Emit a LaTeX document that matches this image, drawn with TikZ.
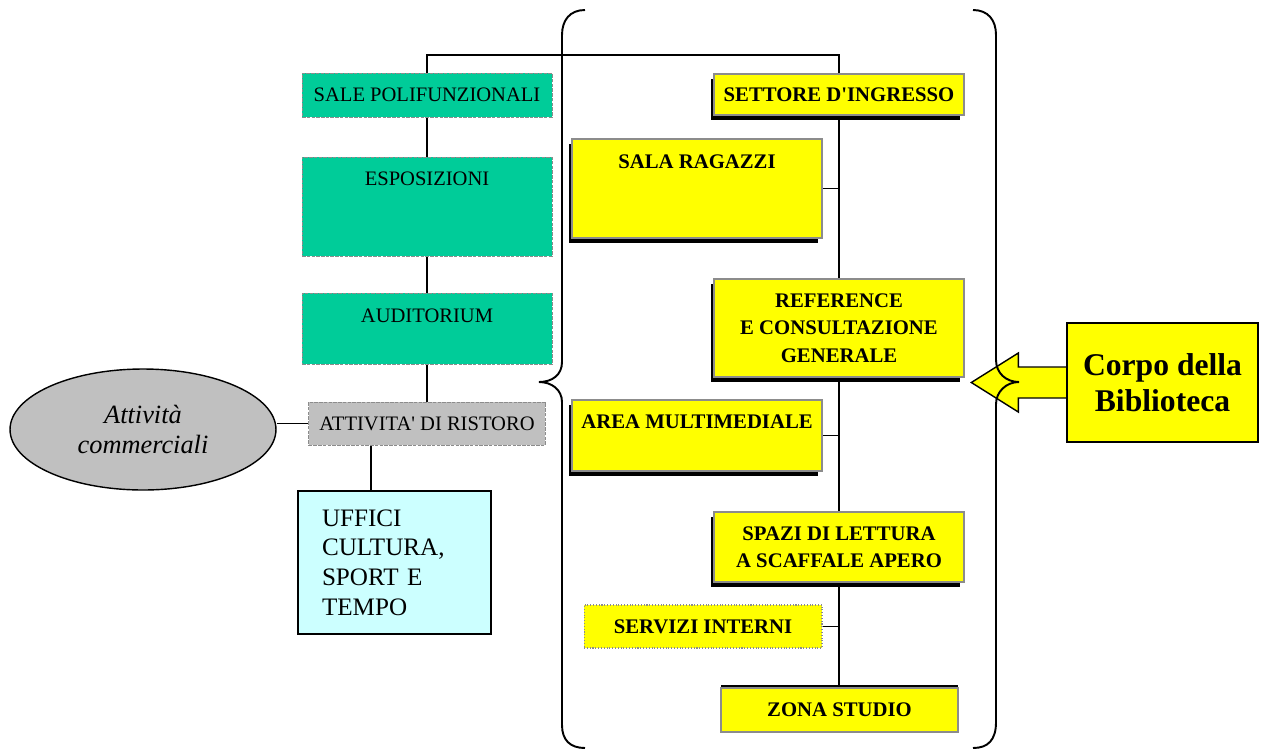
\documentclass[tikz,border=0pt]{standalone}
\usepackage{fontspec}
\setmainfont{Liberation Serif}
\usetikzlibrary{calc,shapes.geometric,shadows,backgrounds}
\definecolor{annexfill}{HTML}{00CC99}
\definecolor{sectorfill}{HTML}{FFFF00}
\definecolor{barfill}{HTML}{C0C0C0}
\definecolor{officefill}{HTML}{CCFFFF}
\definecolor{edgegrey}{HTML}{8C8C8C}

\begin{document}
\begin{tikzpicture}[x=0.02cm, y=-0.02cm,
  annex/.style={draw=edgegrey, dash pattern=on 2pt off 0.7pt, fill=annexfill, inner sep=0pt, minimum width=5cm, align=center, font=\fontsize{11.7}{14}\selectfont},
  sectorbase/.style={draw=edgegrey, line width=0.8pt, fill=sectorfill, inner sep=0pt, minimum width=5cm, align=center, font=\bfseries\fontsize{11.8}{15.6}\selectfont},
  sector/.style={sectorbase, drop shadow={shadow xshift=-0.07cm, shadow yshift=-0.1cm, fill=black, opacity=1}},
  link/.style={line width=0.8pt},
  brace/.style={line width=1.1pt}
]
  \useasboundingbox (0,0) rectangle (1266,751);

  % left wing
  \node[annex, minimum height=0.88cm] (sale) at (427,95) {SALE POLIFUNZIONALI};
  \node[annex, text height=0.56cm, text depth=1.42cm] (espo) at (427,206.5) {ESPOSIZIONI};
  \node[annex, text height=0.58cm, text depth=0.84cm] (audi) at (427,328.5) {AUDITORIUM};
  \node[annex, fill=barfill, minimum width=4.74cm, minimum height=0.86cm] (ristoro) at (427,423.5) {ATTIVITA\textquotesingle\ DI RISTORO};
  \node[ellipse, draw, line width=0.8pt, fill=barfill, minimum width=5.32cm, minimum height=2.42cm, inner sep=0pt, align=center, font=\itshape\fontsize{15}{17}\selectfont] (comm) at (143,429.5) {Attività\\commerciali};
  \node[draw, line width=0.8pt, fill=officefill, minimum width=3.86cm, minimum height=2.86cm, text width=2.9cm, inner xsep=0.48cm, align=left, font=\fontsize{14.3}{16.9}\selectfont] (uffici) at (394.5,562.5) {UFFICI\\CULTURA,\\\mbox{SPORT E}\\TEMPO};

  % library body
  \node[sector, minimum height=0.82cm] (settore) at (839,94.5) {SETTORE D\textquotesingle INGRESSO};
  \node[sector, text height=0.58cm, text depth=1.4cm] (ragazzi) at (697,188.5) {SALA RAGAZZI};
  \node[sector, minimum height=1.96cm] (reference) at (839,328) {REFERENCE\\E CONSULTAZIONE\\GENERALE};
  \node[sector, text height=0.56cm, text depth=0.86cm] (multimedia) at (697,435.5) {AREA MULTIMEDIALE};
  \node[sector, minimum height=1.4cm] (spazi) at (839,547) {SPAZI DI LETTURA\\A SCAFFALE APERO};
  \node[sectorbase, line width=0.6pt, densely dotted, minimum width=4.76cm, minimum height=0.86cm] (servizi) at (703,626.5) {SERVIZI INTERNI};
  \node[sectorbase, drop shadow={shadow xshift=0cm, shadow yshift=0.07cm, fill=black, opacity=1}, minimum width=4.74cm, minimum height=0.88cm] (zona) at (839.5,710) {ZONA STUDIO};

  % callout
  \node[draw, line width=0.8pt, fill=sectorfill, minimum width=3.82cm, minimum height=2.38cm, align=center, font=\bfseries\fontsize{18}{20.5}\selectfont] (corpo) at (1162.5,382.5) {Corpo della\\Biblioteca};

  \begin{scope}[on background layer]
    \coordinate (spine) at (427,55);
    \draw[link] (settore.north) |- (spine) -- (ristoro.north);
    \draw[link] (settore.south) -- (settore.south |- zona.north);
    \draw[link] (ragazzi.east) -- (ragazzi.east -| settore.south);
    \draw[link] (multimedia.east) -- (multimedia.east -| settore.south);
    \draw[link] (servizi.east) -- (servizi.east -| settore.south);
    \draw[link] (ristoro.west) -- (ristoro.west -| comm.east);
    \draw[link] ([xshift=-0.47cm]uffici.north) -- ([xshift=-0.47cm]uffici.north |- ristoro.south);
    \filldraw[fill=sectorfill, line width=0.8pt] ($(corpo.west)+(0,-15.5)$) -- ++(-48,0) -- ++(0,-14) -- ++(-47,29.5) -- ++(47,29.5) -- ++(0,-14) -- ++(48,0);
  \end{scope}

  % braces
  \draw[brace] (585,10) .. controls (570,10) and (562,20) .. (562,35) -- (562,362)
    .. controls (562,375) and (552,382) .. (539,382) .. controls (552,382) and (562,390) .. (562,402)
    -- (562,725) .. controls (562,740) and (570,748) .. (585,748);
  \draw[brace] (973,10) .. controls (988,10) and (996,20) .. (996,35) -- (996,360)
    .. controls (996,373) and (1006,382) .. (1019,382) .. controls (1006,382) and (996,392) .. (996,404)
    -- (996,722) .. controls (996,740) and (988,748) .. (973,748);
\end{tikzpicture}
\end{document}
